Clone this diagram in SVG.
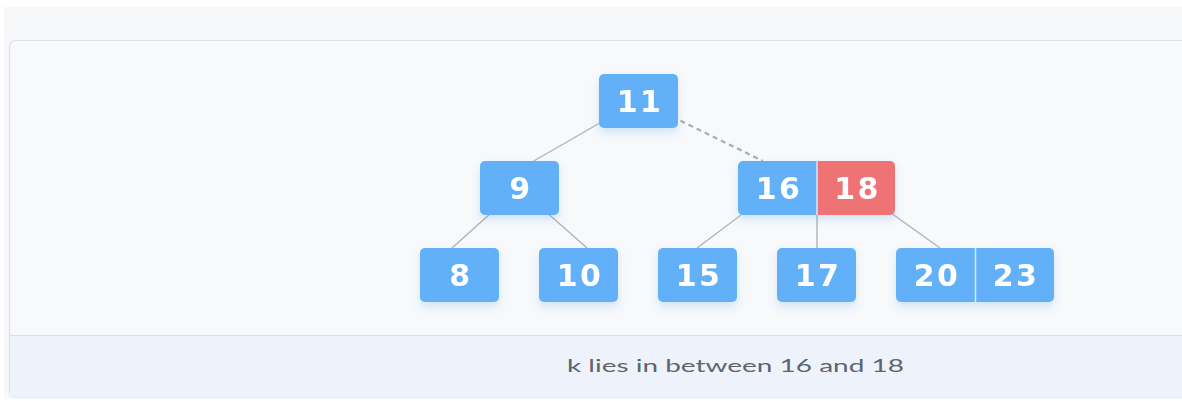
<svg xmlns="http://www.w3.org/2000/svg" width="1182" height="401" viewBox="0 0 1182 401">
  <defs>
    <filter id="sh" x="-30%" y="-30%" width="160%" height="180%">
      <feDropShadow dx="0" dy="5" stdDeviation="4" flood-color="#4d9be6" flood-opacity="0.22"/>
    </filter>
    <style>
      .blue{fill:#62b1f8}
      .red{fill:#ef7274}
      .lbl{font-family:"DejaVu Sans",sans-serif;font-weight:bold;font-size:30px;fill:#ffffff;text-anchor:middle;letter-spacing:2.5px}
      .edge{stroke:#b0b2b6;stroke-width:1.4;fill:none}
      .dash{stroke:#a9abaf;stroke-width:2.2;stroke-dasharray:5 4;fill:none}
      .div{stroke:#d6e8fb;stroke-width:1.5}
      .cap{font-family:"Lato","Open Sans",sans-serif;font-size:18px;fill:#5f6370;text-anchor:middle}
    </style>
  </defs>
  <rect x="0" y="0" width="1182" height="401" fill="#ffffff"/>
  <rect x="4" y="7" width="1178" height="392" fill="#f7f8fa"/>
  <rect x="9.5" y="40.5" width="1185" height="356.5" rx="6" fill="#f8f9fb" stroke="#dde1e6" stroke-width="1.2"/>
  <rect x="10" y="336" width="1172" height="60.5" fill="#eef3fb"/>
  <line x1="10" y1="335.5" x2="1182" y2="335.5" stroke="#d9dfe6" stroke-width="1.2"/>

  <g id="connectors">
    <line class="edge" x1="638" y1="101" x2="532" y2="162"/>
    <line class="dash" x1="640" y1="101" x2="763" y2="161"/>
    <line class="edge" x1="519" y1="188" x2="452" y2="248"/>
    <line class="edge" x1="519" y1="188" x2="587" y2="248"/>
    <line class="edge" x1="777" y1="188" x2="697" y2="248"/>
    <line class="edge" x1="817" y1="188" x2="817" y2="248"/>
    <line class="edge" x1="856" y1="188" x2="940" y2="248"/>
  </g>

  <g id="n11" filter="url(#sh)">
    <rect class="blue" x="599" y="74" width="79" height="54" rx="5"/>
    <text class="lbl" x="640" y="112">11</text>
  </g>
  <g id="n9" filter="url(#sh)">
    <rect class="blue" x="480" y="161" width="79" height="54" rx="5"/>
    <text class="lbl" x="521" y="199">9</text>
  </g>
  <g id="n16_18" filter="url(#sh)">
    <path class="blue" d="M817,161 H743 A5,5 0 0 0 738,166 V210 A5,5 0 0 0 743,215 H817 Z"/>
    <path class="red" d="M817,161 H890 A5,5 0 0 1 895,166 V210 A5,5 0 0 1 890,215 H817 Z"/>
    <line class="div" x1="817" y1="161" x2="817" y2="215"/>
    <text class="lbl" x="779" y="199">16</text>
    <text class="lbl" x="857.5" y="199">18</text>
  </g>
  <g id="n8" filter="url(#sh)">
    <rect class="blue" x="420" y="248" width="79" height="54" rx="5"/>
    <text class="lbl" x="461" y="286">8</text>
  </g>
  <g id="n10" filter="url(#sh)">
    <rect class="blue" x="539" y="248" width="79" height="54" rx="5"/>
    <text class="lbl" x="580" y="286">10</text>
  </g>
  <g id="n15" filter="url(#sh)">
    <rect class="blue" x="658" y="248" width="79" height="54" rx="5"/>
    <text class="lbl" x="699" y="286">15</text>
  </g>
  <g id="n17" filter="url(#sh)">
    <rect class="blue" x="777" y="248" width="79" height="54" rx="5"/>
    <text class="lbl" x="818" y="286">17</text>
  </g>
  <g id="n20_23" filter="url(#sh)">
    <rect class="blue" x="896" y="248" width="158" height="54" rx="5"/>
    <line class="div" x1="975.5" y1="248" x2="975.5" y2="302"/>
    <text class="lbl" x="937" y="286">20</text>
    <text class="lbl" x="1016" y="286">23</text>
  </g>

  <g id="caption">
    <text class="cap" x="735.5" y="372" textLength="337" lengthAdjust="spacingAndGlyphs">k lies in between 16 and 18</text>
  </g>
</svg>
